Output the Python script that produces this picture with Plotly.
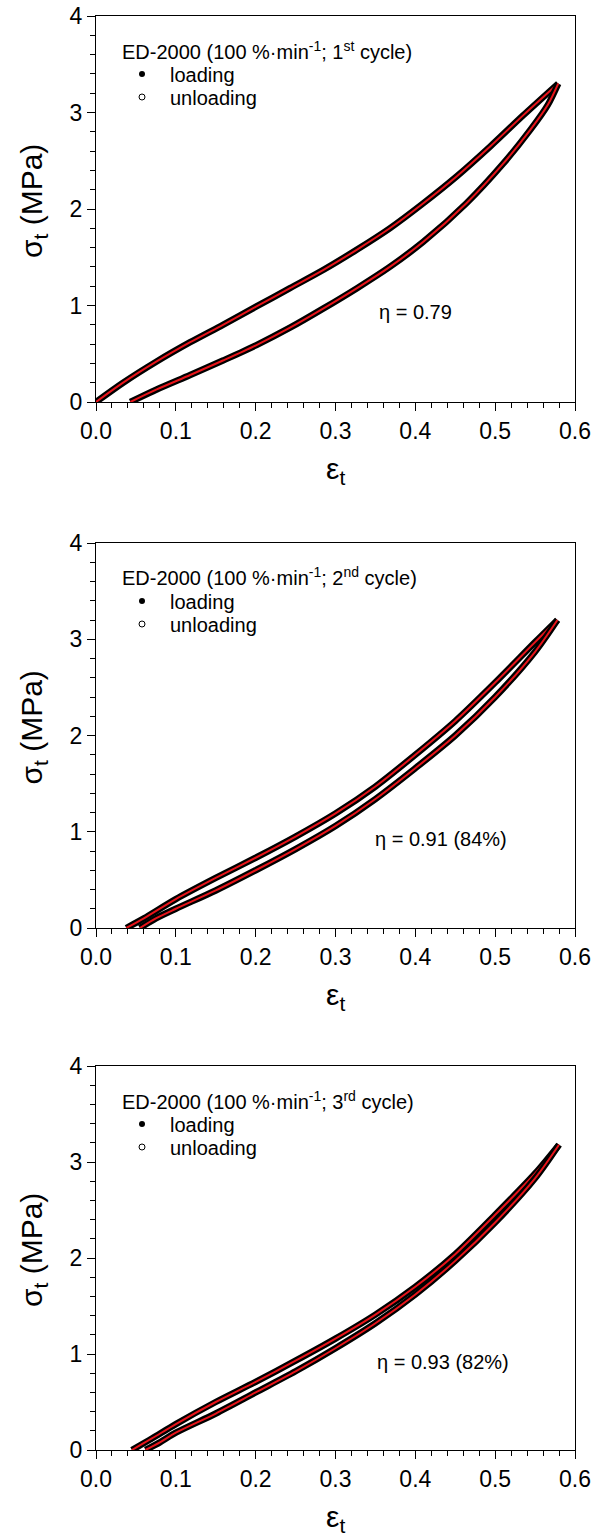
import plotly.graph_objects as go

# ---------------- data (strain eps_t, stress sigma_t in MPa) ----------------
eps_load_1 = [0.000, 0.034, 0.076, 0.118, 0.159, 0.201, 0.243, 0.285, 0.327, 0.368, 0.410, 0.452, 0.494, 0.535, 0.579]
sig_load_1 = [0.00, 0.20, 0.42, 0.62, 0.80, 0.99, 1.18, 1.37, 1.58, 1.80, 2.06, 2.34, 2.65, 2.97, 3.30]
eps_unload_1 = [0.579, 0.566, 0.544, 0.510, 0.464, 0.410, 0.368, 0.327, 0.285, 0.243, 0.201, 0.159, 0.118, 0.076, 0.043]
sig_unload_1 = [3.30, 3.08, 2.82, 2.47, 2.06, 1.66, 1.40, 1.18, 0.97, 0.77, 0.59, 0.43, 0.28, 0.13, 0.00]

eps_load_2 = [0.038, 0.06, 0.10, 0.15, 0.20, 0.25, 0.30, 0.35, 0.40, 0.45, 0.50, 0.55, 0.578]
sig_load_2 = [0.00, 0.10, 0.30, 0.52, 0.73, 0.95, 1.19, 1.47, 1.80, 2.15, 2.55, 2.97, 3.20]
eps_unload_2 = [0.578, 0.55, 0.50, 0.45, 0.40, 0.35, 0.30, 0.25, 0.20, 0.15, 0.10, 0.075, 0.055]
sig_unload_2 = [3.20, 2.87, 2.40, 2.00, 1.66, 1.34, 1.06, 0.82, 0.60, 0.39, 0.20, 0.10, 0.00]

eps_load_3 = [0.045, 0.07, 0.10, 0.15, 0.20, 0.25, 0.30, 0.35, 0.40, 0.45, 0.50, 0.55, 0.580]
sig_load_3 = [0.00, 0.12, 0.27, 0.50, 0.71, 0.93, 1.16, 1.41, 1.70, 2.04, 2.45, 2.88, 3.18]
eps_unload_3 = [0.580, 0.55, 0.50, 0.45, 0.40, 0.35, 0.30, 0.25, 0.20, 0.15, 0.10, 0.08, 0.062]
sig_unload_3 = [3.18, 2.83, 2.37, 1.97, 1.62, 1.32, 1.06, 0.82, 0.60, 0.38, 0.18, 0.08, 0.00]

cycle_labels = ["1<sup>st</sup>", "2<sup>nd</sup>", "3<sup>rd</sup>"]
eta_labels = ["η = 0.79", "η = 0.91 (84%)", "η = 0.93 (82%)"]
series_names = ["loading", "unloading"]

x_ticks = [0.0, 0.1, 0.2, 0.3, 0.4, 0.5, 0.6]
y_ticks = [0, 1, 2, 3, 4]

# ---------------- layout geometry (pixels) ----------------
W, H = 593, 1537
PX_L, PX_R = 96, 575
panels_px = [(16, 402), (543, 928), (1066, 1450)]   # (top, bottom) of each plot area
eta_px = [(377, 312), (373, 839), (375, 1362)]       # left x, centre y
xtitle_dy = 68
ytitle_x = 33

FONT = "Liberation Sans, Arial, sans-serif"

def fy(p):
    return 1 - p / H

fig = go.Figure()

loads = [(eps_load_1, sig_load_1), (eps_load_2, sig_load_2), (eps_load_3, sig_load_3)]
unloads = [(eps_unload_1, sig_unload_1), (eps_unload_2, sig_unload_2), (eps_unload_3, sig_unload_3)]

layout_kw = {}
annotations = []
for i in range(3):
    sfx = "" if i == 0 else str(i + 1)
    xa, ya = "x" + sfx, "y" + sfx
    top, bot = panels_px[i]
    lg1 = "legend" if i == 0 else "legend%d" % (2 * i + 1)
    lg2 = "legend%d" % (2 * i + 2)
    for (ex, sy) in (loads[i], unloads[i]):
        fig.add_trace(go.Scatter(x=ex, y=sy, xaxis=xa, yaxis=ya, mode="lines",
                                 line=dict(color="black", width=6.5, shape="spline", smoothing=0.8),
                                 showlegend=False, hoverinfo="skip"))
        fig.add_trace(go.Scatter(x=ex, y=sy, xaxis=xa, yaxis=ya, mode="lines",
                                 line=dict(color="#e8141a", width=2, shape="spline", smoothing=0.8),
                                 showlegend=False, hoverinfo="skip"))
    # legend entries
    fig.add_trace(go.Scatter(x=[None], y=[None], xaxis=xa, yaxis=ya, mode="markers",
                             name=series_names[0], legend=lg1,
                             marker=dict(symbol="circle", size=6, color="black")))
    fig.add_trace(go.Scatter(x=[None], y=[None], xaxis=xa, yaxis=ya, mode="markers",
                             name=series_names[1], legend=lg2,
                             marker=dict(symbol="circle-open", size=6, color="black",
                                         line=dict(width=1))))
    for lg, ypx in ((lg1, top + 58), (lg2, top + 81)):
        layout_kw[lg] = dict(x=114 / W, y=fy(ypx), xanchor="left", yanchor="middle",
                             bgcolor="rgba(0,0,0,0)", borderwidth=0,
                             font=dict(family=FONT, size=20, color="black"),
                             itemwidth=46)
    layout_kw["xaxis" + sfx] = dict(
        domain=[PX_L / W, PX_R / W], anchor=ya, range=[0, 0.6], automargin=False,
        tickvals=x_ticks, tickformat=".1f", ticks="outside", ticklen=8, tickwidth=1,
        tickcolor="black", showline=True, linecolor="black", linewidth=1.2, mirror=True,
        showgrid=False, zeroline=False, ticklabeloverflow="allow",
        minor=dict(dtick=0.02, ticks="outside", ticklen=5, tickcolor="black", showgrid=False),
        tickfont=dict(family=FONT, size=23, color="black"),
    )
    layout_kw["yaxis" + sfx] = dict(
        domain=[fy(bot), fy(top)], anchor=xa, range=[0, 4], automargin=False,
        tickvals=y_ticks, ticks="outside", ticklen=8, tickwidth=1,
        tickcolor="black", showline=True, linecolor="black", linewidth=1.2, mirror=True,
        showgrid=False, zeroline=False,
        minor=dict(dtick=0.2, ticks="outside", ticklen=5, tickcolor="black", showgrid=False),
        tickfont=dict(family=FONT, size=23, color="black"),
    )
    # axis titles
    annotations.append(dict(
        xref="paper", yref="paper", x=(PX_L + PX_R) / 2 / W, y=fy(bot + xtitle_dy),
        xanchor="center", yanchor="middle", text="ε<sub>t</sub>", showarrow=False,
        font=dict(family=FONT, size=30, color="black")))
    annotations.append(dict(
        xref="paper", yref="paper", x=ytitle_x / W, y=fy((top + bot) / 2 - 8),
        xanchor="center", yanchor="middle", text="σ<sub>t</sub> (MPa)", textangle=-90,
        showarrow=False, font=dict(family=FONT, size=30, color="black")))
    # header + eta
    annotations.append(dict(
        xref="paper", yref="paper", x=120 / W, y=fy(top + 34), xanchor="left", yanchor="middle",
        text="ED-2000 (100 %·min<sup>-1</sup>; " + cycle_labels[i] + " cycle)",
        showarrow=False, font=dict(family=FONT, size=20, color="black")))
    annotations.append(dict(
        xref="paper", yref="paper", x=eta_px[i][0] / W, y=fy(eta_px[i][1]),
        xanchor="left", yanchor="middle",
        text=eta_labels[i], showarrow=False, font=dict(family=FONT, size=20, color="black")))

fig.update_layout(width=W, height=H, margin=dict(l=0, r=0, t=0, b=0),
                  paper_bgcolor="white", plot_bgcolor="white",
                  annotations=annotations, **layout_kw)

fig.write_html("out.html", config={"displayModeBar": False},
               post_script="document.body.style.margin='0';document.body.style.padding='0';")
